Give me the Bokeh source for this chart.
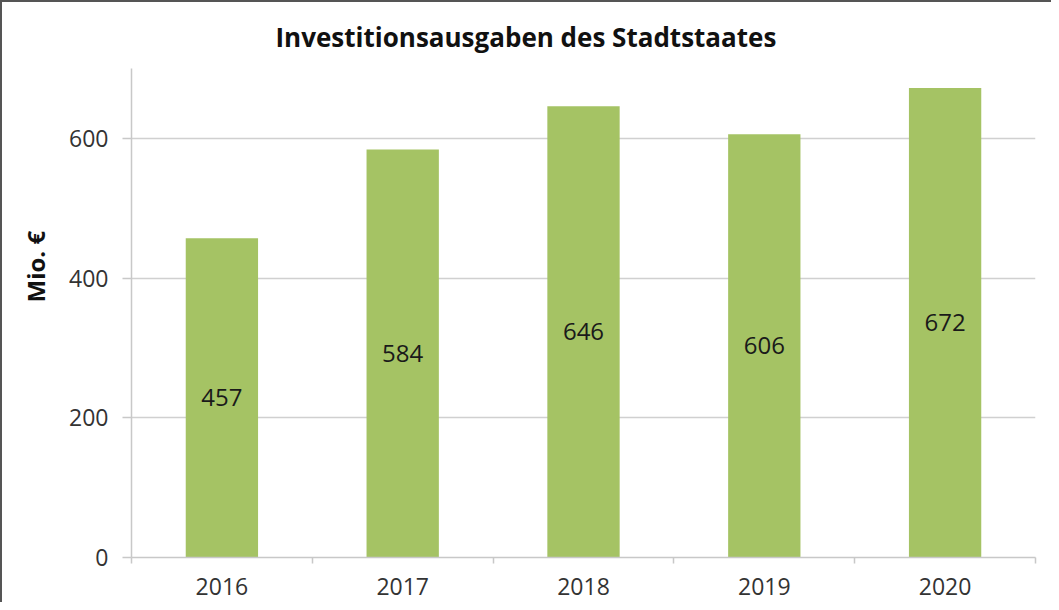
from bokeh.plotting import figure
from bokeh.models import Range1d, LinearAxis, FixedTicker, Title, ColumnDataSource
from bokeh.core.properties import value
from bokeh.embed import file_html
from bokeh.resources import INLINE

title_text = "Investitionsausgaben des Stadtstaates"
y_label = "Mio. €"
years = ["2016", "2017", "2018", "2019", "2020"]
values = [457, 584, 646, 606, 672]
y_ticks = [0, 200, 400, 600]

FONT = "Open Sans"
centers = [i + 0.5 for i in range(len(years))]
src = ColumnDataSource(dict(x=centers, top=values, mid=[v / 2 for v in values],
                            lab=[str(v) for v in values]))

p = figure(width=1051, height=602, output_backend="svg", toolbar_location=None,
           x_range=Range1d(0, len(years)), y_range=Range1d(0, 700),
           x_axis_location=None, y_axis_location=None,
           min_border_left=131, min_border_right=16, min_border_top=68, min_border_bottom=45)
p.outline_line_color = None
p.border_fill_color = None
p.background_fill_color = "white"
p.styles = {"box-shadow": "inset 2px 2px 0 0 #555555"}

p.title.text = title_text
p.title.align = "left"
p.title.offset = 144
p.title.standoff = 27
p.title.text_font = FONT
p.title.text_font_size = "26px"
p.title.text_font_style = "bold"
p.title.text_color = "#111111"

p.xgrid.visible = False
p.ygrid.ticker = FixedTicker(ticks=y_ticks[1:])
p.ygrid.grid_line_color = "#d0d0d0"
p.ygrid.grid_line_width = 1.5

yax = LinearAxis(ticker=FixedTicker(ticks=y_ticks))
yax.axis_line_color = "#c8c8c8"
yax.axis_line_width = 1.5
yax.major_tick_line_color = "#c8c8c8"
yax.major_tick_line_width = 1.5
yax.major_tick_out = 9
yax.major_tick_in = 0
yax.minor_tick_line_color = None
yax.major_label_standoff = 14
yax.major_label_text_font = FONT
yax.major_label_text_font_size = "23px"
yax.major_label_text_color = "#333333"
p.add_layout(yax, "left")

xax = LinearAxis(ticker=FixedTicker(ticks=centers, minor_ticks=list(range(len(years) + 1))))
xax.major_label_overrides = {c: y for c, y in zip(centers, years)}
xax.axis_line_color = "#c8c8c8"
xax.axis_line_width = 1.5
xax.major_tick_line_color = None
xax.major_tick_out = 0
xax.major_tick_in = 0
xax.minor_tick_line_color = "#c8c8c8"
xax.minor_tick_line_width = 1.5
xax.minor_tick_out = 6
xax.minor_tick_in = 0
xax.major_label_standoff = 14
xax.major_label_text_font = FONT
xax.major_label_text_font_size = "23px"
xax.major_label_text_color = "#333333"
p.add_layout(xax, "below")

p.add_layout(Title(text=y_label, align="left", offset=255, standoff=30, text_font=FONT,
                   text_font_size="24px", text_font_style="bold", text_color="#111111"), "left")

p.vbar(x="x", top="top", width=0.4, source=src, fill_color="#a5c364", line_color=None)
p.text(x="x", y="mid", text="lab", source=src, text_align="center", text_baseline="middle",
       text_font=value(FONT), text_font_size="24px", text_color="#1a1a1a")

open("out.html", "w").write(file_html(p, INLINE))
